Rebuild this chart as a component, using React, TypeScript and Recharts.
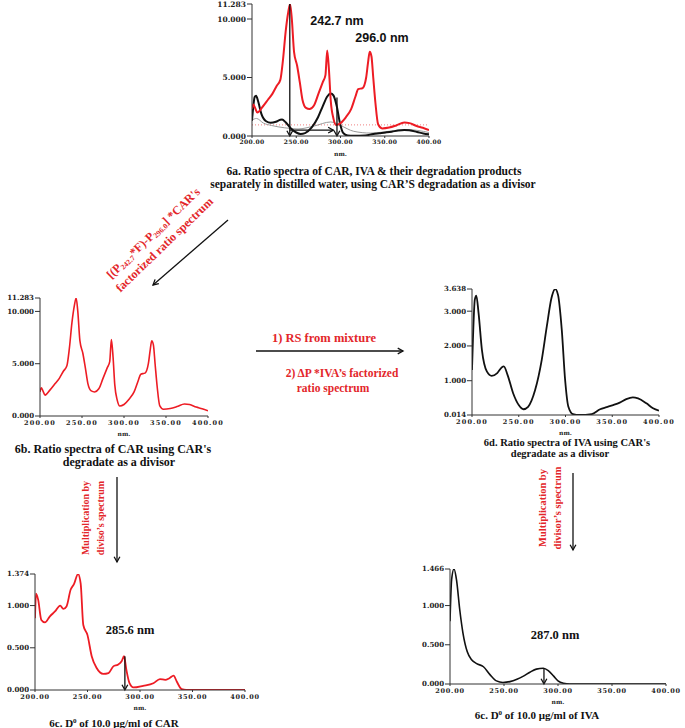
import React from "react"
import { LineChart, Line, XAxis, YAxis, ReferenceLine } from "recharts"

// ── Data ──────────────────────────────────────────────────────────────────

const X_TICKS = [200, 250, 300, 350, 400]

// CAR ratio spectrum (6a red, 6b)
const CAR_RATIO_NM = [200, 201.5, 203.5, 206, 212, 218, 223, 228, 232, 235, 238, 241, 243, 245, 247.5, 251, 254, 257, 261, 265, 270, 275, 280, 283, 285, 287, 289, 292, 295, 300, 306, 312, 317, 320, 325, 329, 331, 333, 335, 337, 339.5, 342.5, 347, 355, 363, 372, 378, 386, 393, 400]
const CAR_RATIO = [2.3, 2.7, 2.4, 2.0, 2.5, 3.1, 3.6, 4.3, 4.8, 6.5, 8.9, 10.6, 11.28, 10.0, 7.2, 6.0, 4.6, 3.1, 2.4, 2.3, 2.6, 3.6, 4.6, 5.2, 7.3, 5.6, 3.0, 1.5, 0.95, 1.1, 1.6, 2.3, 3.4, 4.0, 4.1, 5.0, 6.2, 7.2, 6.8, 5.0, 2.8, 1.0, 0.65, 0.72, 0.9, 1.15, 1.1, 0.85, 0.7, 0.5]

// IVA ratio spectrum (6a black, 6d)
const IVA_RATIO_NM = [200, 201, 203, 204.6, 207, 210.6, 216, 221, 227, 232, 234, 238, 244, 250, 255, 260, 267.5, 274.6, 280, 285, 289, 292, 296, 299.6, 303, 308, 315, 328, 337, 344, 351, 358, 365, 372, 377.6, 386.5, 393.6, 400]
const IVA_RATIO = [1.31, 2.18, 3.33, 3.45, 2.95, 1.89, 1.26, 1.14, 1.22, 1.39, 1.41, 1.17, 0.64, 0.3, 0.18, 0.25, 0.73, 1.6, 2.56, 3.38, 3.638, 3.47, 2.47, 1.02, 0.26, 0.04, 0.014, 0.04, 0.18, 0.24, 0.3, 0.37, 0.47, 0.52, 0.49, 0.35, 0.21, 0.14]

// degradation products in 6a
const IVA_DEG_NM = [200, 205, 213, 222, 237, 252, 270, 289, 300, 315, 334, 360, 375, 400]
const IVA_DEG = [1.35, 1.5, 1.1, 0.9, 0.7, 0.6, 0.85, 1.2, 0.9, 0.4, 0.25, 0.45, 0.55, 0.3]
const CAR_DEG_NM = [200, 400]
const CAR_DEG = [0.95, 0.95]

// D0 of CAR (6c left)
const CAR_D0_NM = [200, 201, 203, 206, 209.5, 214, 219, 224, 227, 230, 234, 237, 241, 243.5, 246, 250, 254, 258.7, 265, 270, 274.6, 279, 282.5, 284.8, 287, 290, 293.7, 303, 312.7, 319, 324, 328, 332, 335, 339.7, 344, 400]
const CAR_D0 = [0.85, 1.14, 1.07, 0.83, 0.8, 0.87, 0.93, 1.0, 0.96, 0.99, 1.19, 1.25, 1.374, 1.26, 0.77, 0.65, 0.4, 0.26, 0.19, 0.2, 0.28, 0.3, 0.34, 0.4, 0.24, 0.08, 0.03, 0.05, 0.08, 0.13, 0.12, 0.14, 0.17, 0.1, 0.01, 0, 0]

// D0 of IVA (6c right)
const IVA_D0_NM = [200, 201.5, 203.7, 206, 209, 212, 216, 220, 224.7, 231, 237, 243, 249, 255.5, 262, 268, 274, 280, 286.4, 291, 296, 300, 305, 311, 400]
const IVA_D0 = [0.8, 1.33, 1.466, 1.33, 0.95, 0.65, 0.41, 0.31, 0.26, 0.22, 0.12, 0.04, 0.02, 0.03, 0.06, 0.1, 0.15, 0.19, 0.2, 0.17, 0.1, 0.04, 0.01, 0, 0]

const A_Y_TICKS = [0, 5, 10, 11.283]
const D_Y_TICKS = [0.014, 1, 2, 3, 3.638]
const C_Y_TICKS = [0, 0.5, 1, 1.374]
const E_Y_TICKS = [0, 0.5, 1, 1.466]

// ── Styling ────────────────────────────────────────────────────────────────

const RED = "#ed1c24"
const TXT_RED = "#e3262a"
const AXIS = "#333"
const SERIF = "'Liberation Serif', 'Times New Roman', serif"

const rows = (nm: number[], v: number[]) => nm.map((x, i) => ({ nm: x, v: v[i] }))

type Series = { nm: number[]; v: number[]; color: string; width: number; dash?: string }
type Marker = [number, number, number, number]

function ArrowShape(p: any) {
  const { x1, y1, x2, y2 } = p
  if ([x1, y1, x2, y2].some((n) => typeof n !== "number" || isNaN(n))) return <g />
  const a = Math.atan2(y2 - y1, x2 - x1)
  const L = 6
  const s = 0.5
  const h1 = `${x2 - L * Math.cos(a - s)},${y2 - L * Math.sin(a - s)}`
  const h2 = `${x2 - L * Math.cos(a + s)},${y2 - L * Math.sin(a + s)}`
  return (
    <g>
      <line x1={x1} y1={y1} x2={x2} y2={y2} stroke="#111" strokeWidth={1.3} />
      <polyline points={`${h1} ${x2},${y2} ${h2}`} fill="none" stroke="#111" strokeWidth={1.3} />
    </g>
  )
}

function Panel({
  x, y, w, h, yDomain, yTicks, series, markers = [], xFont, xSpacing, yFont,
}: {
  x: number; y: number; w: number; h: number
  yDomain: [number, number]; yTicks: number[]
  series: Series[]; markers?: Marker[]
  xFont: number; xSpacing: number; yFont: number
}) {
  const YW = 42, MT = 7, MR = 16, XH = 20
  const xTick = { fontSize: xFont, fontFamily: "DejaVu Serif", fontWeight: 700, fill: "#222", letterSpacing: xSpacing }
  const yTick = { fontSize: yFont, fontFamily: "DejaVu Serif", fontWeight: 700, fill: "#222" }
  return (
    <div style={{ position: "absolute", left: x - YW, top: y - MT }}>
      <LineChart width={YW + w + MR} height={MT + h + XH} margin={{ top: MT, right: MR, left: 0, bottom: 0 }}>
        <XAxis
          xAxisId="b" type="number" dataKey="nm" domain={[200, 400]} ticks={X_TICKS} interval={0}
          allowDataOverflow tickFormatter={(v: number) => v.toFixed(2)} tick={xTick}
          tickSize={2} tickMargin={2} height={XH} stroke={AXIS}
          label={{ value: "nm.", position: "insideBottom", offset: 0, style: { fontSize: 6, fontFamily: "DejaVu Serif", fontWeight: 700, fill: "#222" } }}
        />
        <XAxis
          xAxisId="t" orientation="top" type="number" domain={[200, 400]} ticks={X_TICKS}
          allowDataOverflow tick={false} mirror tickSize={4} height={0} stroke={AXIS}
        />
        <YAxis
          yAxisId="l" type="number" domain={yDomain} ticks={yTicks} interval={0} allowDataOverflow
          tickFormatter={(v: number) => v.toFixed(3)} tick={yTick} width={YW}
          tickSize={5} tickMargin={1} stroke={AXIS}
        />
        <YAxis
          yAxisId="r" orientation="right" type="number" domain={yDomain} ticks={yTicks}
          allowDataOverflow tick={false} mirror tickSize={4} width={0} stroke={AXIS}
        />
        {series.map((s, i) => (
          <Line
            key={i} xAxisId="b" yAxisId="l" data={rows(s.nm, s.v)} dataKey="v" type="monotone"
            stroke={s.color} strokeWidth={s.width} strokeDasharray={s.dash} dot={false}
            isAnimationActive={false}
          />
        ))}
        {markers.map((m, i) => (
          <ReferenceLine
            key={"m" + i} xAxisId="b" yAxisId="l"
            segment={[{ x: m[0], y: m[1] }, { x: m[2], y: m[3] }]}
            shape={ArrowShape} ifOverflow="visible"
          />
        ))}
      </LineChart>
    </div>
  )
}

function Arrow({ x1, y1, x2, y2 }: { x1: number; y1: number; x2: number; y2: number }) {
  return <ArrowShape x1={x1} y1={y1} x2={x2} y2={y2} />
}

function Overlay() {
  const cap = { fontFamily: SERIF, fontWeight: 700, fill: "#111", textAnchor: "middle" as const }
  const red = { fontFamily: SERIF, fontWeight: 700, fill: TXT_RED, textAnchor: "middle" as const }
  return (
    <svg width={685} height={728} style={{ position: "absolute", left: 0, top: 0, pointerEvents: "none" }}>
      {/* breaks in the top frame lines */}
      <rect x={132} y={296} width={8} height={5} fill="#fff" />
      <rect x={587} y={287} width={9} height={5} fill="#fff" />
      <rect x={155} y={572} width={15} height={5} fill="#fff" />
      <rect x={545} y={567} width={45} height={5} fill="#fff" />

      {/* peak labels */}
      <text x={337} y={25} fontFamily="'Liberation Sans', Arial, sans-serif" fontWeight={700} fontSize={12.5} fill="#111" textAnchor="middle">242.7 nm</text>
      <text x={382} y={42} fontFamily="'Liberation Sans', Arial, sans-serif" fontWeight={700} fontSize={12.5} fill="#111" textAnchor="middle">296.0 nm</text>
      <text x={130} y={634} {...cap} fontSize={12.5}>285.6 nm</text>
      <text x={555} y={639} {...cap} fontSize={12.5}>287.0 nm</text>

      {/* captions */}
      <text x={374} y={175} {...cap} fontSize={11.5}>6a. Ratio spectra of CAR, IVA &amp; their degradation products</text>
      <text x={373} y={187.5} {...cap} fontSize={11.5}>separately in distilled water, using CAR’S degradation as a divisor</text>
      <text x={113} y={453} {...cap} fontSize={12}>6b. Ratio spectra of CAR using CAR's</text>
      <text x={119} y={466} {...cap} fontSize={12}>degradate as a divisor</text>
      <text x={567} y={446} {...cap} fontSize={10.5}>6d. Ratio spectra of IVA using CAR's</text>
      <text x={560} y={457} {...cap} fontSize={10.5}>degradate as a divisor</text>
      <text x={114} y={727} {...cap} fontSize={11}>
        6c. D<tspan fontSize={7} dy={-4}>0</tspan><tspan dy={4}> of 10.0 μg/ml of CAR</tspan>
      </text>
      <text x={537} y={719} {...cap} fontSize={11}>
        6c. D<tspan fontSize={7} dy={-4}>0</tspan><tspan dy={4}> of 10.0 μg/ml of IVA</tspan>
      </text>

      {/* flow: 6a -> 6b */}
      <Arrow x1={228} y1={220} x2={153} y2={285} />
      <g transform="translate(156,236) rotate(-44)">
        <text x={0} y={0} {...red} fontSize={12}>
          [(P<tspan fontSize={7.5} dy={2}>242.7</tspan><tspan dy={-2}>*F)-P</tspan><tspan fontSize={7.5} dy={2}>296.0</tspan><tspan dy={-2}>] *CAR's</tspan>
        </text>
        <text x={0} y={16} {...red} fontSize={12}>factorized ratio spectrum</text>
      </g>

      {/* flow: 6b -> 6d */}
      <Arrow x1={256} y1={351} x2={403} y2={351} />
      <text x={324} y={342} {...red} fontSize={12.5}>1) RS from mixture</text>
      <text x={342} y={377} {...red} fontSize={11.5}>2) ΔP *IVA’s factorized</text>
      <text x={333} y={392} {...red} fontSize={11.5}>ratio spectrum</text>

      {/* flow: 6b -> 6c, 6d -> 6c */}
      <Arrow x1={117} y1={477} x2={117} y2={562} />
      <g transform="translate(89,518) rotate(-90)">
        <text x={0} y={0} {...red} fontSize={10}>Multiplication by</text>
        <text x={0} y={15} {...red} fontSize={10}>diviso’s spectrum</text>
      </g>
      <Arrow x1={573} y1={473} x2={573} y2={550} />
      <g transform="translate(546,508) rotate(-90)">
        <text x={0} y={0} {...red} fontSize={10.5}>Multiplication by</text>
        <text x={0} y={15} {...red} fontSize={10.5}>divisor’s spectrum</text>
      </g>
    </svg>
  )
}

export default function App() {
  return (
    <div style={{ position: "absolute", left: 0, top: 0, width: 685, height: 728, background: "#fff", overflow: "hidden" }}>
      {/* 6a */}
      <Panel
        x={252} y={4} w={177} h={132} yDomain={[0, 11.283]} yTicks={A_Y_TICKS}
        xFont={6} xSpacing={0.3} yFont={7.5}
        series={[
          { nm: CAR_DEG_NM, v: CAR_DEG, color: "#f08080", width: 1, dash: "1 2" },
          { nm: IVA_DEG_NM, v: IVA_DEG, color: "#999", width: 1 },
          { nm: IVA_RATIO_NM, v: IVA_RATIO, color: "#111", width: 2 },
          { nm: CAR_RATIO_NM, v: CAR_RATIO, color: RED, width: 2 },
        ]}
        markers={[
          [242.7, 11.283, 242.7, 0],
          [296, 3.3, 296, 0],
          [242.7, 0.5, 292, 0.5],
        ]}
      />
      {/* 6b */}
      <Panel
        x={40} y={298} w={168} h={118} yDomain={[0, 11.283]} yTicks={A_Y_TICKS}
        xFont={6.5} xSpacing={1.2} yFont={7}
        series={[{ nm: CAR_RATIO_NM, v: CAR_RATIO, color: RED, width: 1.6 }]}
      />
      {/* 6d */}
      <Panel
        x={472} y={289} w={187} h={126} yDomain={[0.014, 3.638]} yTicks={D_Y_TICKS}
        xFont={6.5} xSpacing={1.2} yFont={7}
        series={[{ nm: IVA_RATIO_NM, v: IVA_RATIO, color: "#111", width: 1.8 }]}
      />
      {/* 6c CAR */}
      <Panel
        x={35} y={574} w={210} h={116} yDomain={[0, 1.374]} yTicks={C_Y_TICKS}
        xFont={6.5} xSpacing={0.8} yFont={7}
        series={[{ nm: CAR_D0_NM, v: CAR_D0, color: RED, width: 1.8 }]}
        markers={[[285.6, 0.4, 285.6, 0]]}
      />
      {/* 6c IVA */}
      <Panel
        x={450} y={569} w={216} h={115} yDomain={[0, 1.466]} yTicks={E_Y_TICKS}
        xFont={6.5} xSpacing={0.8} yFont={7}
        series={[{ nm: IVA_D0_NM, v: IVA_D0, color: "#111", width: 1.6 }]}
        markers={[[287, 0.2, 287, 0]]}
      />
      <Overlay />
    </div>
  )
}
